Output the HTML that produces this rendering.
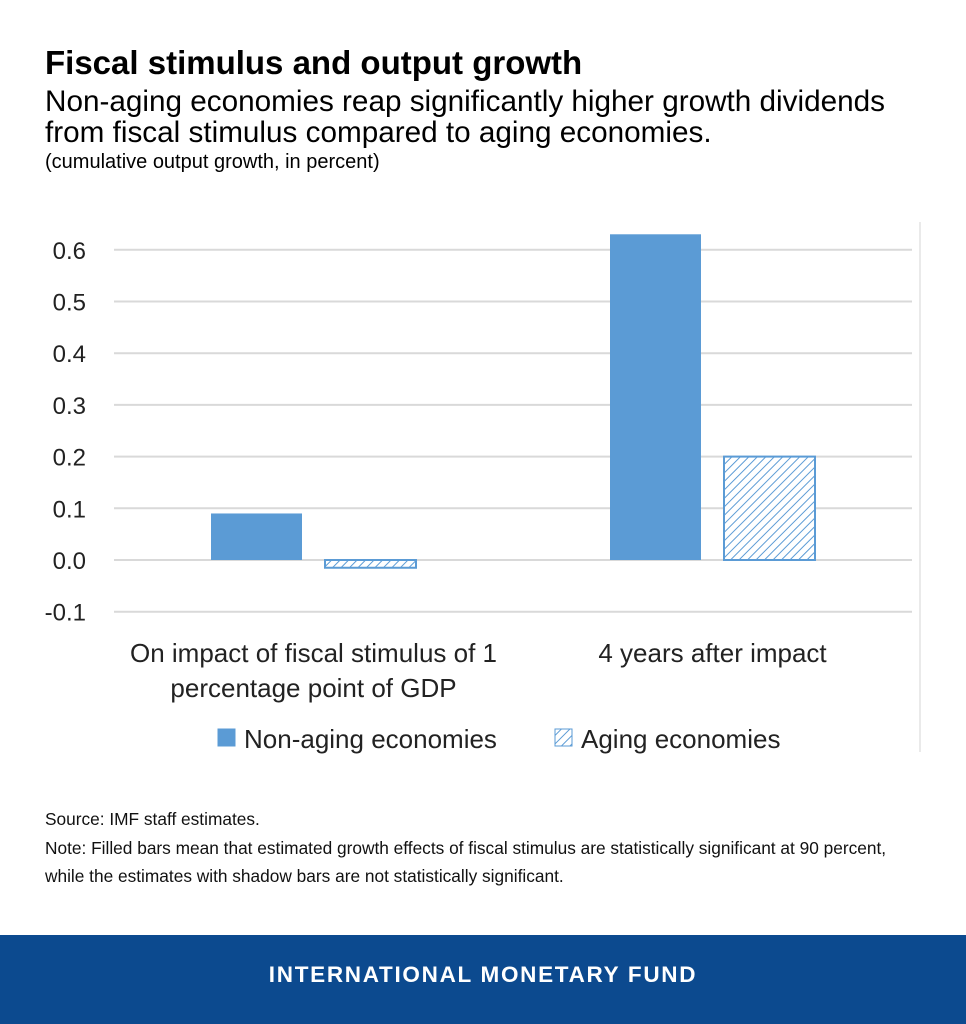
<!DOCTYPE html>
<html><head><meta charset="utf-8"><style>
body{margin:0;width:966px;height:1024px;background:#fff;position:relative;font-family:"Liberation Sans",sans-serif;overflow:hidden}
.t{position:absolute;left:45px;color:#000;white-space:nowrap}
</style></head><body>
<div class="t" style="top:44px;font-size:33px;font-weight:bold">Fiscal stimulus and output growth</div>
<div class="t" style="top:86px;font-size:29.7px;line-height:31px">Non-aging economies reap significantly higher growth dividends<br>from fiscal stimulus compared to aging economies.</div>
<div class="t" style="top:151px;font-size:20px">(cumulative output growth, in percent)</div>
<svg id="chart" width="966" height="780" style="position:absolute;left:0;top:0">
<defs><pattern id="hatch" patternUnits="userSpaceOnUse" width="6" height="6" patternTransform="rotate(45)"><rect width="6" height="6" fill="#fff"/><line x1="0" y1="0" x2="0" y2="6" stroke="#5b9bd5" stroke-width="2"/></pattern></defs>
<line x1="920" y1="222" x2="920" y2="752" stroke="#e4e4e4" stroke-width="1.5"/>
</svg>
<div class="t" style="top:805px;font-size:17.3px;line-height:28.5px;color:#111">Source: IMF staff estimates.<br>Note: Filled bars mean that estimated growth effects of fiscal stimulus are statistically significant at 90 percent,<br>while the estimates with shadow bars are not statistically significant.</div>
<div style="position:absolute;left:0;top:935px;width:966px;height:89px;background:#0c4a8f;color:#fff;font-weight:bold;font-size:22.5px;letter-spacing:1.7px;text-align:center;line-height:80px">INTERNATIONAL MONETARY FUND</div>
<script>
const categories=[["On impact of fiscal stimulus of 1","percentage point of GDP"],["4 years after impact"]];
const nonAging=[0.09,0.63];
const aging=[-0.015,0.2];
const yTicks=[-0.1,0,0.1,0.2,0.3,0.4,0.5,0.6];
const yLabels=["-0.1","0.0","0.1","0.2","0.3","0.4","0.5","0.6"];
const svg=document.getElementById('chart');const NS='http://www.w3.org/2000/svg';
const x0=114,x1=912,yZero=560,pxPer=517;
const y=v=>yZero-v*pxPer;
function mk(t,a){const e=document.createElementNS(NS,t);for(const k in a)e.setAttribute(k,a[k]);svg.appendChild(e);return e;}
yTicks.forEach((v,i)=>{
 const l=mk('line',{x1:x0,x2:x1,y1:y(v),y2:y(v),stroke:'#d9d9d9','stroke-width':2});
 
 
 const t=mk('text',{x:86,y:y(v)+9,'text-anchor':'end','font-size':24,fill:'#222','font-family':'Liberation Sans, sans-serif'});
 t.textContent=yLabels[i];
 
 
});
const band=(x1-x0)/categories.length,bw=91,gap=23;
categories.forEach((c,i)=>{
 const cx=x0+band*(i+0.5);
 const v1=nonAging[i],v2=aging[i];
 const b1=mk('rect',{x:cx-gap/2-bw,y:Math.min(y(v1),yZero),width:bw,height:Math.abs(y(v1)-yZero),fill:'#5b9bd5'});
 
 
 const b2=mk('rect',{x:cx+gap/2,y:Math.min(y(v2),yZero),width:bw,height:Math.abs(y(v2)-yZero),fill:'url(#hatch)',stroke:'#5b9bd5','stroke-width':2});
 
 
 c.forEach((line,j)=>{
  const t=mk('text',{x:cx,y:662+j*35,'text-anchor':'middle','font-size':26,fill:'#222','font-family':'Liberation Sans, sans-serif'});
  t.textContent=line;
  
  
 });
});
const lg=[[218,'#5b9bd5','Non-aging economies'],[555,'url(#hatch)','Aging economies']];
lg.forEach(([lx,f,txt])=>{
 const r=mk('rect',{x:lx,y:729,width:17,height:17,fill:f,stroke:'#5b9bd5','stroke-width':1});
 
 
 const t=mk('text',{x:lx+26,y:748,'font-size':26,fill:'#222','font-family':'Liberation Sans, sans-serif'});
 t.textContent=txt;
 
 
});
</script>
</body></html>
